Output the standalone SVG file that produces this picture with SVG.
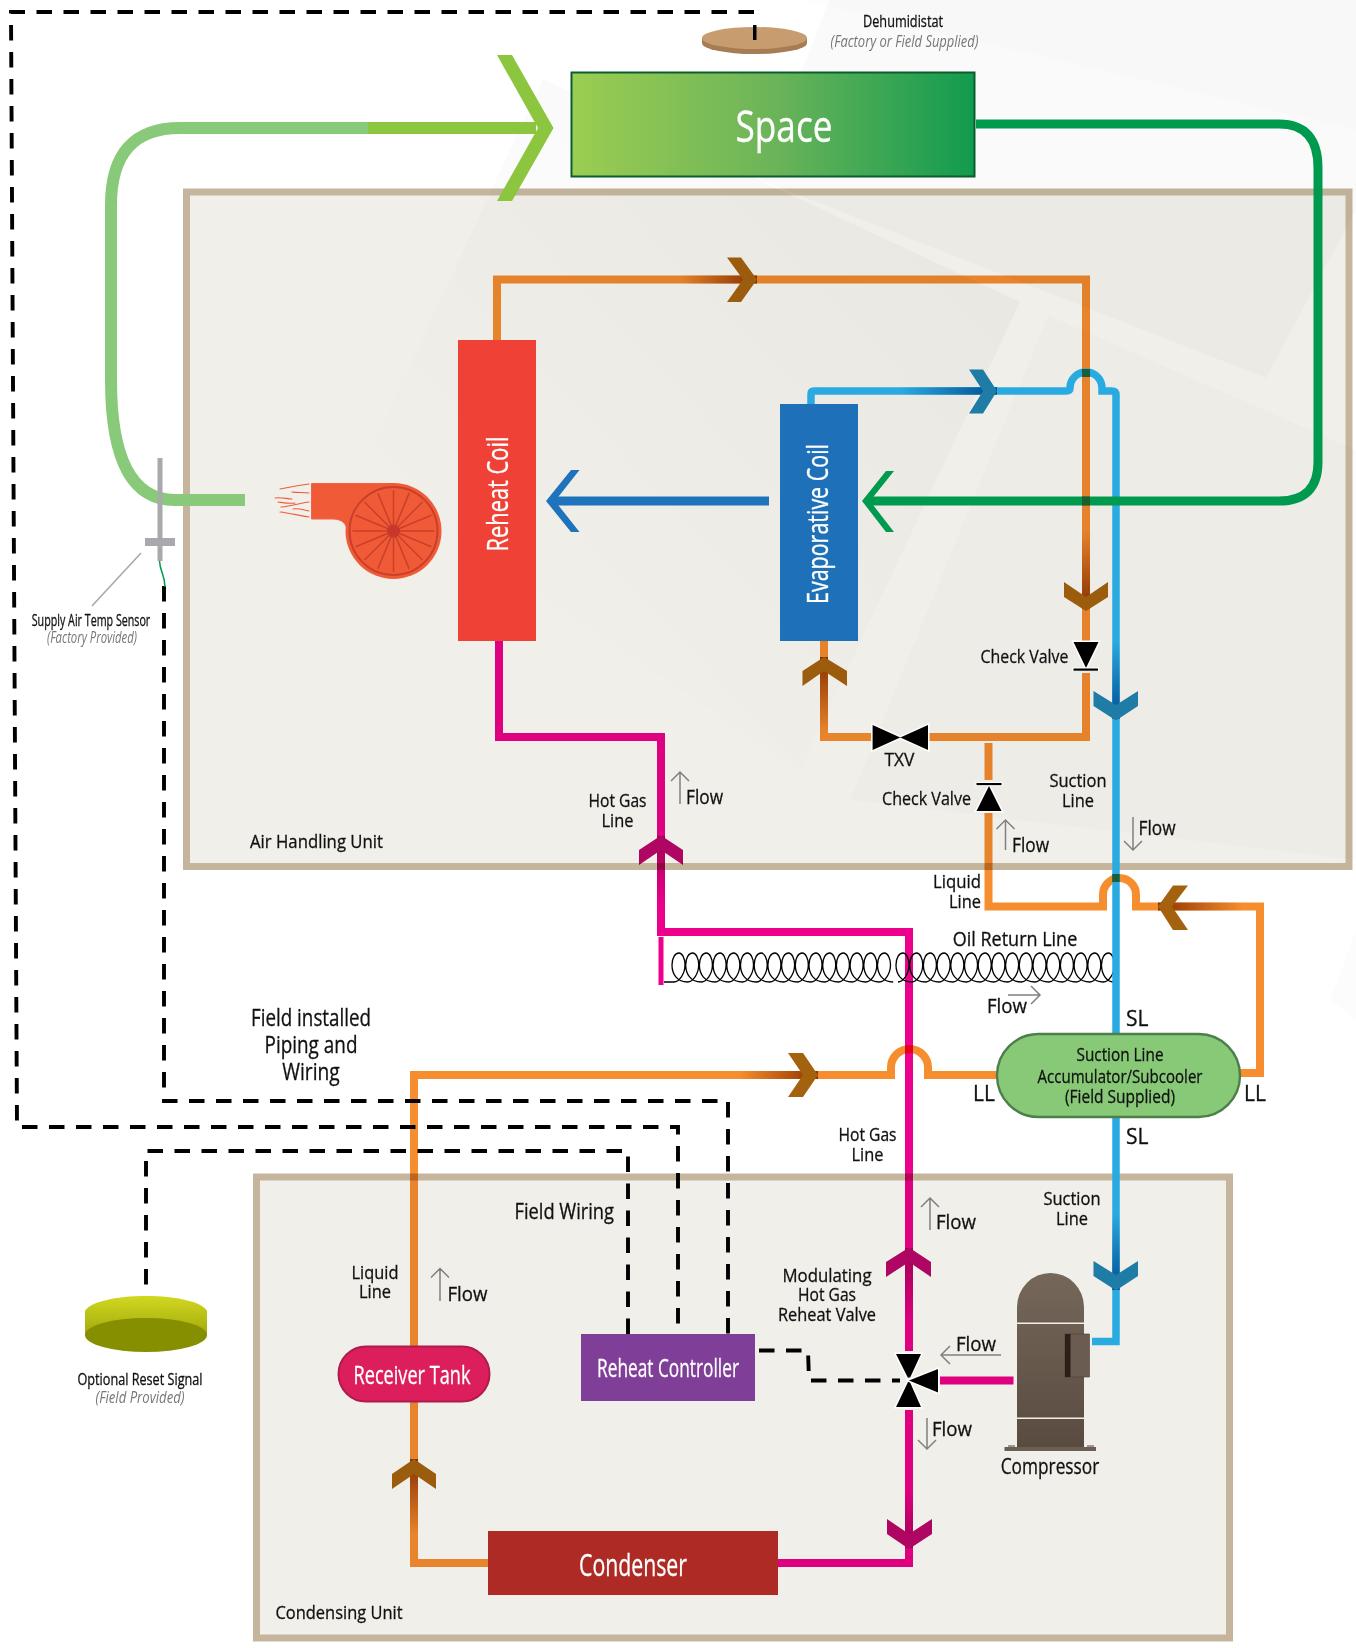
<svg xmlns="http://www.w3.org/2000/svg" width="1356" height="1648" viewBox="0 0 1356 1648">
<style>
text{font-family:"Open Sans","Noto Sans","Liberation Sans",sans-serif;fill:#111}
.l,.m,.s{stroke:#111;stroke-width:.3}
.l{font-size:19px}
.m{font-size:24px}
.s{font-size:15.5px}
.i{font-style:italic;fill:#777;stroke:none}
.w{fill:#fff;stroke:#fff;stroke-width:.3}
.c{text-anchor:middle}
.e{text-anchor:end}
.p{fill:none;stroke-width:8;stroke-linejoin:miter;mix-blend-mode:multiply}
.o{stroke:#f68d2e}.k{stroke:#ec008c}
.b{fill:none;stroke:#29abe2;stroke-width:7.5}
.d{fill:none;stroke:#000;stroke-width:3.9;stroke-dasharray:15.5 11.5}
.f{fill:none;stroke:#808080;stroke-width:1.5}
.co{fill:#a5620e}.cb{fill:#1f7ca6}.ck{fill:#b8066b}
.h{stroke:#fff;stroke-width:3;fill:#000;paint-order:stroke;stroke-linejoin:miter}
.fw{fill:none;stroke:#f15a37;stroke-width:1.1;stroke-linecap:round}
.sp{stroke:#c9402a;stroke-width:1.5}
</style>
<defs>
<linearGradient id="spaceG" x1="0" x2="1" y1="0" y2="0"><stop offset="0" stop-color="#9bcd51"/><stop offset=".5" stop-color="#6cb459"/><stop offset="1" stop-color="#129b4f"/></linearGradient>
<linearGradient id="comp" x1="0" x2="0" y1="0" y2="1"><stop offset="0" stop-color="#75675a"/><stop offset="1" stop-color="#594b3f"/></linearGradient>
<linearGradient id="lime" x1="0" x2="0" y1="0" y2="1"><stop offset="0" stop-color="#d2d820"/><stop offset="1" stop-color="#a0a80c"/></linearGradient>
<linearGradient id="bgf" x1="0" x2="1" y1="1" y2="0"><stop offset=".2" stop-color="#000" stop-opacity="0"/><stop offset="1" stop-color="#000" stop-opacity=".035"/></linearGradient>
<linearGradient id="goR" x1="0" x2="1" y1="0" y2="0"><stop offset="0" stop-color="#8f3300" stop-opacity="0"/><stop offset="1" stop-color="#8f3300"/></linearGradient>
<linearGradient id="goL" x1="1" x2="0" y1="0" y2="0"><stop offset="0" stop-color="#8f3300" stop-opacity="0"/><stop offset="1" stop-color="#8f3300"/></linearGradient>
<linearGradient id="goU" x1="0" x2="0" y1="1" y2="0"><stop offset="0" stop-color="#8f3300" stop-opacity="0"/><stop offset="1" stop-color="#8f3300"/></linearGradient>
<linearGradient id="goD" x1="0" x2="0" y1="0" y2="1"><stop offset="0" stop-color="#8f3300" stop-opacity="0"/><stop offset="1" stop-color="#8f3300"/></linearGradient>
<linearGradient id="gbR" x1="0" x2="1" y1="0" y2="0"><stop offset="0" stop-color="#004f92" stop-opacity="0"/><stop offset="1" stop-color="#004f92"/></linearGradient>
<linearGradient id="gbD" x1="0" x2="0" y1="0" y2="1"><stop offset="0" stop-color="#004f92" stop-opacity="0"/><stop offset="1" stop-color="#004f92"/></linearGradient>
<linearGradient id="gkU" x1="0" x2="0" y1="1" y2="0"><stop offset="0" stop-color="#a8005a" stop-opacity="0"/><stop offset="1" stop-color="#a8005a"/></linearGradient>
<linearGradient id="gkD" x1="0" x2="0" y1="0" y2="1"><stop offset="0" stop-color="#a8005a" stop-opacity="0"/><stop offset="1" stop-color="#a8005a"/></linearGradient>
</defs>

<rect width="1356" height="1648" fill="#fff"/>
<g id="background">
<polygon points="445,0 829,0 760,180 1266,378 1356,210 1356,0" fill="#000" opacity=".018"/>
<polygon points="860,0 1356,0 1356,130 800,0" fill="#000" opacity=".006"/>
<polygon points="543,79 1020,302 800,770 360,473" fill="url(#bgf)"/>
<polygon points="1048,315 1356,450 1356,860 850,800" fill="#000" opacity=".012"/>
<polygon points="1356,1020 1330,1000 1356,930" fill="#000" opacity=".012"/>
</g>

<g id="connectors">
<path class="p o" d="M497,340 V279.5 H1086 V642 M1086,673 V737 H928 M872,737 H824 V641"/>
<path class="p o" d="M988.5,743 V780 M988.5,813 V906.5 H1103 V894.5 A16.5,16.5 0 0 1 1136,894.5 V906.5 H1260 V1073 H1240"/>
<path class="p o" d="M414,1346 V1075 H891 V1067.5 A18.5,18.5 0 0 1 928,1067.5 V1075 H998 M414,1401 V1563 H488"/>
<path class="p k" d="M499,638 V737 H661 V932 H909 V1351 M909,1410 V1563 H778 M940,1380.5 H1013.5"/>
<path class="p k" style="stroke-width:5" d="M661,937 V985"/>

<rect x="680" y="275.5" width="77" height="8" fill="url(#goR)"/>
<polygon class="co" points="727,257.5 741,257.5 757,279.5 741,302 727,302 743,279.5"/>
<rect x="1082" y="531" width="8" height="78" fill="url(#goD)"/>
<polygon class="co" points="1064,582 1086,597 1108,582 1108,597 1086,611 1064,597"/>
<rect x="820" y="657" width="8" height="75" fill="url(#goU)"/>
<polygon class="co" points="802.5,686 824,671 847,686 847,671 824,657 802.5,671"/>
<rect x="1158" y="902.5" width="85" height="8" fill="url(#goL)"/>
<polygon class="co" points="1173,885.5 1188,885.5 1172,906.5 1188,930 1173,930 1158,906.5"/>
<rect x="740" y="1071" width="78" height="8" fill="url(#goR)"/>
<polygon class="co" points="788,1053 803,1053 818,1075 803,1097 788,1097 803,1075"/>
<rect x="410" y="1459" width="8" height="75" fill="url(#goU)"/>
<polygon class="co" points="392,1489 414,1474 436,1489 436,1474 414,1459 392,1474"/>
<rect x="657" y="836" width="8" height="70" fill="url(#gkU)"/>
<polygon class="ck" points="639,865 661,850 683,865 683,850 661,835.5 639,850"/>
<rect x="905" y="1248" width="8" height="76" fill="url(#gkU)"/>
<polygon class="ck" points="886,1277 909,1262 931,1277 931,1262 909,1247.5 886,1262"/>
<rect x="905" y="1490" width="8" height="58" fill="url(#gkD)"/>
<polygon class="ck" points="887,1519 909,1534 932,1519 932,1534 909,1549 887,1534"/>

<path id="oilcoil" fill="none" stroke="#000" stroke-width="1.3" d="M664,982 H674 c5,0 11,-8 11,-17 c0,-7 -3,-12 -6,-12 c-4,0 -7,5 -7,12 c0,9 5,17 15.7,17 c5,0 11,-8 11,-17 c0,-7 -3,-12 -6,-12 c-4,0 -7,5 -7,12 c0,9 5,17 15.7,17 c5,0 11,-8 11,-17 c0,-7 -3,-12 -6,-12 c-4,0 -7,5 -7,12 c0,9 5,17 15.7,17 c5,0 11,-8 11,-17 c0,-7 -3,-12 -6,-12 c-4,0 -7,5 -7,12 c0,9 5,17 15.7,17 c5,0 11,-8 11,-17 c0,-7 -3,-12 -6,-12 c-4,0 -7,5 -7,12 c0,9 5,17 15.7,17 c5,0 11,-8 11,-17 c0,-7 -3,-12 -6,-12 c-4,0 -7,5 -7,12 c0,9 5,17 15.7,17 c5,0 11,-8 11,-17 c0,-7 -3,-12 -6,-12 c-4,0 -7,5 -7,12 c0,9 5,17 15.7,17 c5,0 11,-8 11,-17 c0,-7 -3,-12 -6,-12 c-4,0 -7,5 -7,12 c0,9 5,17 15.7,17 c5,0 11,-8 11,-17 c0,-7 -3,-12 -6,-12 c-4,0 -7,5 -7,12 c0,9 5,17 15.7,17 c5,0 11,-8 11,-17 c0,-7 -3,-12 -6,-12 c-4,0 -7,5 -7,12 c0,9 5,17 15.7,17 c5,0 11,-8 11,-17 c0,-7 -3,-12 -6,-12 c-4,0 -7,5 -7,12 c0,9 5,17 15.7,17 c5,0 11,-8 11,-17 c0,-7 -3,-12 -6,-12 c-4,0 -7,5 -7,12 c0,9 5,17 15.7,17 c5,0 11,-8 11,-17 c0,-7 -3,-12 -6,-12 c-4,0 -7,5 -7,12 c0,9 5,17 15.7,17 c5,0 11,-8 11,-17 c0,-7 -3,-12 -6,-12 c-4,0 -7,5 -7,12 c0,9 5,17 15.7,17 c5,0 11,-8 11,-17 c0,-7 -3,-12 -6,-12 c-4,0 -7,5 -7,12 c0,9 5,17 15.7,17 c5,0 11,-8 11,-17 c0,-7 -3,-12 -6,-12 c-4,0 -7,5 -7,12 c0,9 5,17 15.7,17 M898,982 c5,0 11,-8 11,-17 c0,-7 -3,-12 -6,-12 c-4,0 -7,5 -7,12 c0,9 5,17 15.7,17 c5,0 11,-8 11,-17 c0,-7 -3,-12 -6,-12 c-4,0 -7,5 -7,12 c0,9 5,17 15.7,17 c5,0 11,-8 11,-17 c0,-7 -3,-12 -6,-12 c-4,0 -7,5 -7,12 c0,9 5,17 15.7,17 c5,0 11,-8 11,-17 c0,-7 -3,-12 -6,-12 c-4,0 -7,5 -7,12 c0,9 5,17 15.7,17 c5,0 11,-8 11,-17 c0,-7 -3,-12 -6,-12 c-4,0 -7,5 -7,12 c0,9 5,17 15.7,17 c5,0 11,-8 11,-17 c0,-7 -3,-12 -6,-12 c-4,0 -7,5 -7,12 c0,9 5,17 15.7,17 c5,0 11,-8 11,-17 c0,-7 -3,-12 -6,-12 c-4,0 -7,5 -7,12 c0,9 5,17 15.7,17 c5,0 11,-8 11,-17 c0,-7 -3,-12 -6,-12 c-4,0 -7,5 -7,12 c0,9 5,17 15.7,17 c5,0 11,-8 11,-17 c0,-7 -3,-12 -6,-12 c-4,0 -7,5 -7,12 c0,9 5,17 15.7,17 c5,0 11,-8 11,-17 c0,-7 -3,-12 -6,-12 c-4,0 -7,5 -7,12 c0,9 5,17 15.7,17 c5,0 11,-8 11,-17 c0,-7 -3,-12 -6,-12 c-4,0 -7,5 -7,12 c0,9 5,17 15.7,17 c5,0 11,-8 11,-17 c0,-7 -3,-12 -6,-12 c-4,0 -7,5 -7,12 c0,9 5,17 15.7,17 c5,0 11,-8 11,-17 c0,-7 -3,-12 -6,-12 c-4,0 -7,5 -7,12 c0,9 5,17 15.7,17 c5,0 11,-8 11,-17 c0,-7 -3,-12 -6,-12 c-4,0 -7,5 -7,12 c0,9 5,17 15.7,17 c5,0 11,-8 11,-17 c0,-7 -3,-12 -6,-12 c-4,0 -7,5 -7,12 c0,9 5,17 15.7,17 c5,0 11,-8 11,-17 c0,-7 -3,-12 -6,-12 c-4,0 -7,5 -7,12 c0,9 5,17 12,17"/>
</g>

<g id="air-handling-unit"><rect x="186.5" y="192" width="1162.5" height="674.5" fill="#f1efea" stroke="#c4b59c" stroke-width="7" style="mix-blend-mode:multiply"/>
<text class="l" x="250" y="847.5" textLength="133" lengthAdjust="spacingAndGlyphs">Air Handling Unit</text></g>
<g id="condensing-unit"><rect x="256.5" y="1177" width="973" height="461" fill="#f1efea" stroke="#c4b59c" stroke-width="7" style="mix-blend-mode:multiply"/>
<text class="l" x="275.5" y="1619" textLength="127" lengthAdjust="spacingAndGlyphs">Condensing Unit</text></g>

<g id="connectors-top">
<path class="b" d="M811,404 V394 Q811,391 814,391 H1066 Q1070,391 1070,388 A16,16 0 0 1 1102,388 V391 H1112 Q1116,391 1116,395 V1341.5 H1092"/>
<rect x="1082" y="369" width="8" height="8" fill="#1d5e3a"/>
<rect x="1112.2" y="874" width="7.5" height="8" fill="#1d5e3a"/>
<path d="M976,124 H1279 Q1318,124 1318,168 V462 Q1318,501 1279,501 H868" fill="none" stroke="#009a4e" stroke-width="9"/>
<polygon points="886,471 894,471 870,501 894,532 886,532 862,501" fill="#009a4e"/>
<rect x="1082" y="496.5" width="8" height="9" fill="#1d5e2e"/>
<path d="M769,501 H552" fill="none" stroke="#1f73bc" stroke-width="9"/>
<polygon points="571,470 579.5,470 555,501 579.5,532 571,532 546,501" fill="#1f73bc"/>
<rect x="900" y="387.2" width="97" height="7.5" fill="url(#gbR)"/>
<polygon class="cb" points="969,369.5 983,369.5 997,391 983,413.5 969,413.5 983,391"/>
<rect x="1112.2" y="640" width="7.5" height="79" fill="url(#gbD)"/>
<polygon class="cb" points="1093.5,691 1116,705 1138,691 1138,706 1116,720.5 1093.5,706"/>
<rect x="1112.2" y="1213" width="7.5" height="77" fill="url(#gbD)"/>
<polygon class="cb" points="1093.5,1261 1116,1275 1138,1261 1138,1276 1116,1290.5 1093.5,1276"/>
</g>

<g id="supply-air">
<path d="M245,500 H175 Q111,500 111,380 V205 Q111,128 180,128 H368" fill="none" stroke="#88c97a" stroke-width="12"/>
<path d="M368,128 H536" fill="none" stroke="#8cc63f" stroke-width="12"/>
<polygon points="497,55 512,55 553.5,128 512,201 497,201 538,128" fill="#8cc63f"/>
</g>

<g id="wiring">
<path class="d" d="M754,12 H11 L17,1127 H678 V1334"/>
<path class="d" d="M164,586 V1101 H728 V1334"/>
<path class="d" d="M628,1334 V1151 H146 V1293"/>
<path class="d" d="M759,1350.5 H808 L809,1380.5 H900"/>
</g>

<g id="dehumidistat">
<ellipse cx="754.5" cy="43" rx="52.5" ry="11" fill="#a67c52"/>
<rect x="702" y="38" width="105" height="5" fill="#a67c52"/>
<ellipse cx="754.5" cy="38" rx="52.5" ry="11" fill="#c79c6e"/>
<rect x="753" y="25" width="3.5" height="15" fill="#000"/>
<text class="s c" x="903" y="27" textLength="80" lengthAdjust="spacingAndGlyphs">Dehumidistat</text>
<text class="s c i" x="904.5" y="46.5" textLength="148" lengthAdjust="spacingAndGlyphs">(Factory or Field Supplied)</text>
</g>

<g id="space"><rect x="571.5" y="72.5" width="403" height="104" fill="url(#spaceG)" stroke="#0b5d2e" stroke-width="2"/>
<text class="w c" x="784" y="142" style="font-size:44px" textLength="97" lengthAdjust="spacingAndGlyphs">Space</text></g>

<g id="supply-air-temp-sensor">
<rect x="157.5" y="458" width="5" height="103" fill="#a7a9ac"/>
<rect x="145" y="538" width="30" height="8" fill="#a7a9ac"/>
<path d="M159.5,561 C160,572 165,575 165,587" fill="none" stroke="#009a4e" stroke-width="1.5"/>
<line x1="141" y1="553" x2="92" y2="606" stroke="#a7a9ac" stroke-width="1.6"/>
<text class="s c" x="91" y="626" textLength="118.5" lengthAdjust="spacingAndGlyphs">Supply Air Temp Sensor</text>
<text class="s c i" x="92" y="643" textLength="90" lengthAdjust="spacingAndGlyphs">(Factory Provided)</text>
</g>

<g id="fan">
<path d="M311.5,483.5 H393 V531 H347 C347,524 342,519 333,519 H311.5 Z" fill="#f15a37" stroke="#f0624a" stroke-width="1"/>
<circle cx="393.5" cy="531" r="48" fill="#f15a37"/>
<circle cx="393.5" cy="531" r="44" fill="none" stroke="#c9402a" stroke-width="2"/>
<g>
<line class="sp" x1="393.5" y1="490" x2="393.5" y2="572"/>
<line class="sp" x1="393.5" y1="490" x2="393.5" y2="572" transform="rotate(22.5 393.5 531)"/>
<line class="sp" x1="393.5" y1="490" x2="393.5" y2="572" transform="rotate(45 393.5 531)"/>
<line class="sp" x1="393.5" y1="490" x2="393.5" y2="572" transform="rotate(67.5 393.5 531)"/>
<line class="sp" x1="393.5" y1="490" x2="393.5" y2="572" transform="rotate(90 393.5 531)"/>
<line class="sp" x1="393.5" y1="490" x2="393.5" y2="572" transform="rotate(112.5 393.5 531)"/>
<line class="sp" x1="393.5" y1="490" x2="393.5" y2="572" transform="rotate(135 393.5 531)"/>
<line class="sp" x1="393.5" y1="490" x2="393.5" y2="572" transform="rotate(157.5 393.5 531)"/>
</g>
<circle cx="393.5" cy="531" r="6.5" fill="#c9362a"/>
<path class="fw" d="M280,489 C290,487 300,485 309,484"/>
<path class="fw" d="M292,492 C298,493 304,492 309,493"/>
<path class="fw" d="M275,498 C282,497 287,499 292,499"/>
<path class="fw" d="M278,502 C285,503 290,504 295,503"/>
<path class="fw" d="M281,507 C292,506 300,503 309,502"/>
<path class="fw" d="M293,509 C298,508 304,510 309,511"/>
<path class="fw" d="M280,512 C290,513 300,516 309,517"/>
</g>

<g id="reheat-coil"><rect x="458" y="340" width="78" height="301" fill="#ef4136"/>
<text class="w c" transform="translate(508,494) rotate(-90)" style="font-size:30px" textLength="115" lengthAdjust="spacingAndGlyphs">Reheat Coil</text></g>
<g id="evaporative-coil"><rect x="780" y="404" width="78" height="237" fill="#1e71b8"/>
<text class="w c" transform="translate(828,524) rotate(-90)" style="font-size:30px" textLength="160" lengthAdjust="spacingAndGlyphs">Evaporative Coil</text></g>

<g id="check-valve-1">
<polygon class="h" points="1073.5,642 1098.5,642 1086,668"/>
<rect x="1073" y="668" width="25.5" height="3.2" fill="#000" stroke="#fff" stroke-width="1"/>
<text class="l e" x="1068.5" y="663" textLength="88" lengthAdjust="spacingAndGlyphs">Check Valve</text>
</g>
<g id="txv">
<polygon class="h" points="872.6,725 872.6,750 928,725 928,750"/>
<text class="l c" x="899.5" y="766" textLength="30" lengthAdjust="spacingAndGlyphs">TXV</text>
</g>
<g id="check-valve-2">
<polygon class="h" points="976.5,811 1001.5,811 989,786"/>
<rect x="976" y="782.5" width="26" height="3.2" fill="#000" stroke="#fff" stroke-width="1"/>
<text class="l e" x="971" y="805" textLength="89" lengthAdjust="spacingAndGlyphs">Check Valve</text>
</g>

<g id="accumulator"><rect x="997" y="1034" width="243" height="83" rx="41.5" fill="#87c977" stroke="#4c7f4a" stroke-width="2.4"/>
<text class="l c" x="1120" y="1060.5" textLength="87" lengthAdjust="spacingAndGlyphs">Suction Line</text>
<text class="l c" x="1120" y="1083" textLength="165" lengthAdjust="spacingAndGlyphs">Accumulator/Subcooler</text>
<text class="l c" x="1120" y="1103" textLength="110" lengthAdjust="spacingAndGlyphs">(Field Supplied)</text></g>

<g id="receiver-tank"><rect x="338.5" y="1346.5" width="151" height="55" rx="27.5" fill="#dc1f5c" stroke="#b01b4e" stroke-width="2"/>
<text class="w c" x="412" y="1384" style="font-size:25px" textLength="117" lengthAdjust="spacingAndGlyphs">Receiver Tank</text></g>
<g id="reheat-controller"><rect x="581" y="1334" width="174" height="67" fill="#7f3f98"/>
<text class="w c" x="668" y="1377" style="font-size:25px" textLength="142" lengthAdjust="spacingAndGlyphs">Reheat Controller</text></g>
<g id="condenser"><rect x="488" y="1531" width="290" height="64" fill="#ae2b25"/>
<text class="w c" x="633" y="1576" style="font-size:31px" textLength="108" lengthAdjust="spacingAndGlyphs">Condenser</text></g>

<g id="modulating-valve">
<polygon class="h" points="896,1354 921,1354 909,1380"/>
<polygon class="h" points="896,1407 921,1407 909,1380"/>
<polygon class="h" points="938,1369 938,1392.5 909,1380.5"/>
<text class="l c" x="827" y="1282" textLength="89" lengthAdjust="spacingAndGlyphs">Modulating</text>
<text class="l c" x="827" y="1301" textLength="58" lengthAdjust="spacingAndGlyphs">Hot Gas</text>
<text class="l c" x="827" y="1321" textLength="98" lengthAdjust="spacingAndGlyphs">Reheat Valve</text>
</g>

<g id="compressor">
<rect x="1004.5" y="1447" width="91.5" height="4" fill="#6b5e52"/>
<rect x="1008" y="1445" width="7" height="2" fill="#999"/>
<rect x="1087" y="1445" width="7" height="2" fill="#999"/>
<path d="M1017,1447 V1307 A33.5,34 0 0 1 1084,1307 V1447 Z" fill="url(#comp)"/>
<rect x="1017" y="1322.5" width="67" height="1.5" fill="#f1efea"/>
<rect x="1017" y="1417.5" width="67" height="1.5" fill="#f1efea"/>
<rect x="1065" y="1334" width="24.5" height="43" fill="#6a5c50" stroke="#4a3e34" stroke-width=".6"/>
<rect x="1065" y="1334" width="5.5" height="43" fill="#2a2018"/>
<text class="l c" x="1050" y="1473.5" style="font-size:21px" textLength="98.6" lengthAdjust="spacingAndGlyphs">Compressor</text>
</g>

<g id="optional-reset-signal">
<path d="M85,1311 C90,1302 115,1296 146,1296 C177,1296 202,1302 207,1311 V1336 H85 Z" fill="url(#lime)"/>
<ellipse cx="146" cy="1335" rx="61" ry="17" fill="#858f00"/>
<text class="s c" x="140" y="1384.5" textLength="125" lengthAdjust="spacingAndGlyphs">Optional Reset Signal</text>
<text class="s c i" x="140" y="1403" textLength="89" lengthAdjust="spacingAndGlyphs">(Field Provided)</text>
</g>

<g id="labels">
<text class="l c" x="1078" y="787" textLength="57" lengthAdjust="spacingAndGlyphs">Suction</text>
<text class="l c" x="1078" y="807" textLength="32" lengthAdjust="spacingAndGlyphs">Line</text>
<text class="l c" x="617.5" y="807" textLength="58" lengthAdjust="spacingAndGlyphs">Hot Gas</text>
<text class="l c" x="617.5" y="827" textLength="32" lengthAdjust="spacingAndGlyphs">Line</text>
<text class="l e" x="981" y="888" textLength="48" lengthAdjust="spacingAndGlyphs">Liquid</text>
<text class="l e" x="981" y="908" textLength="32" lengthAdjust="spacingAndGlyphs">Line</text>
<text class="l c" x="1015" y="946" style="font-size:20px" textLength="124.5" lengthAdjust="spacingAndGlyphs">Oil Return Line</text>
<text class="l" x="1126" y="1026" style="font-size:21px">SL</text>
<text class="l" x="1126" y="1143.5" style="font-size:21px">SL</text>
<text class="l" x="973" y="1100.5" style="font-size:21px">LL</text>
<text class="l" x="1244" y="1100.5" style="font-size:21px">LL</text>
<text class="l c" x="867.5" y="1141" textLength="58" lengthAdjust="spacingAndGlyphs">Hot Gas</text>
<text class="l c" x="867.5" y="1161" textLength="32" lengthAdjust="spacingAndGlyphs">Line</text>
<text class="l c" x="1072" y="1205" textLength="57" lengthAdjust="spacingAndGlyphs">Suction</text>
<text class="l c" x="1072" y="1225" textLength="32" lengthAdjust="spacingAndGlyphs">Line</text>
<text class="l c" x="375" y="1279" textLength="47" lengthAdjust="spacingAndGlyphs">Liquid</text>
<text class="l c" x="375" y="1298" textLength="32" lengthAdjust="spacingAndGlyphs">Line</text>
<text class="l" x="514.5" y="1219" style="font-size:21px" textLength="99.5" lengthAdjust="spacingAndGlyphs">Field Wiring</text>
<text class="m c" x="311" y="1026" textLength="120" lengthAdjust="spacingAndGlyphs">Field installed</text>
<text class="m c" x="311" y="1053" textLength="93" lengthAdjust="spacingAndGlyphs">Piping and</text>
<text class="m c" x="311" y="1080" textLength="57.5" lengthAdjust="spacingAndGlyphs">Wiring</text>
</g>

<g id="flow-indicators">
<path class="f" d="M680,804 V772 M671,781 L680,772 L689,781"/>
<text class="l" x="686" y="804" style="font-size:20px" textLength="37" lengthAdjust="spacingAndGlyphs">Flow</text>
<path class="f" d="M1133,817 V850 M1124,841 L1133,850 L1142,841"/>
<text class="l" x="1138.5" y="835" style="font-size:20px" textLength="37" lengthAdjust="spacingAndGlyphs">Flow</text>
<path class="f" d="M1005.5,850 V820 M996.5,829 L1005.5,820 L1014.5,829"/>
<text class="l" x="1012" y="852" style="font-size:20px" textLength="37" lengthAdjust="spacingAndGlyphs">Flow</text>
<path class="f" d="M1008,995 H1040 M1031,986 L1040,995 L1031,1004"/>
<text class="l" x="987" y="1013" style="font-size:20px" textLength="40" lengthAdjust="spacingAndGlyphs">Flow</text>
<path class="f" d="M930,1230 V1198 M921,1207 L930,1198 L939,1207"/>
<text class="l" x="936" y="1229" style="font-size:20px" textLength="40" lengthAdjust="spacingAndGlyphs">Flow</text>
<path class="f" d="M1001,1355 H941 M950,1346 L941,1355 L950,1364"/>
<text class="l" x="956" y="1351" style="font-size:20px" textLength="40" lengthAdjust="spacingAndGlyphs">Flow</text>
<path class="f" d="M927,1418 V1449 M918,1440 L927,1449 L936,1440"/>
<text class="l" x="932" y="1436" style="font-size:20px" textLength="40" lengthAdjust="spacingAndGlyphs">Flow</text>
<path class="f" d="M440,1301 V1268.5 M431,1277.5 L440,1268.5 L449,1277.5"/>
<text class="l" x="447.5" y="1301" style="font-size:20px" textLength="40" lengthAdjust="spacingAndGlyphs">Flow</text>
</g>
</svg>
